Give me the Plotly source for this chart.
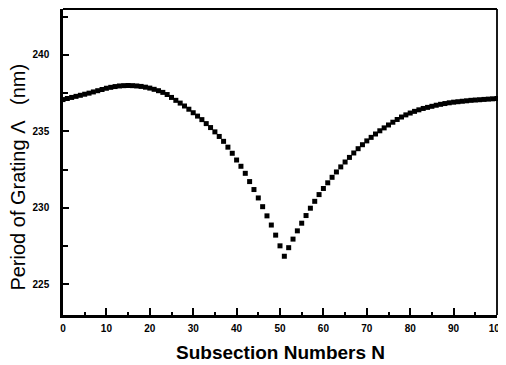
import plotly.graph_objects as go

# Subsection numbers N (0..100)
N = list(range(0, 101))

# Grating period (nm)
period_nm = [
    237.08, 237.15, 237.22, 237.29, 237.36, 237.43, 237.50, 237.58, 237.66, 237.74,
    237.82, 237.88, 237.93, 237.97, 237.99, 238.00, 237.99, 237.97, 237.94, 237.89,
    237.83, 237.75, 237.66, 237.55, 237.41, 237.22, 237.03, 236.85, 236.66, 236.45,
    236.22, 236.00, 235.77, 235.51, 235.25, 234.97, 234.67, 234.35, 233.97, 233.57,
    233.13, 232.72, 232.26, 231.72, 231.20, 230.65, 230.08, 229.48, 228.88, 228.22,
    227.52, 226.84, 227.40, 227.96, 228.50, 229.00, 229.50, 229.98, 230.43, 230.87,
    231.27, 231.64, 232.00, 232.35, 232.68, 233.00, 233.30, 233.59, 233.87, 234.13,
    234.38, 234.61, 234.83, 235.04, 235.23, 235.42, 235.60, 235.78, 235.94, 236.08,
    236.20, 236.31, 236.41, 236.50, 236.57, 236.64, 236.71, 236.77, 236.82, 236.87,
    236.91, 236.94, 236.97, 237.00, 237.03, 237.05, 237.07, 237.09, 237.11, 237.13,
    237.15,
]

x_ticks = [0, 10, 20, 30, 40, 50, 60, 70, 80, 90, 100]
y_ticks = [225, 230, 235, 240]
y_tick_labels = ["225", "230", "235", "240"]

x_title = "Subsection Numbers N"
y_title = "Period of Grating Λ   (nm)"

fig = go.Figure()
fig.add_trace(go.Scatter(
    x=N, y=period_nm, mode="markers",
    marker=dict(symbol="square", size=5, color="black", line=dict(width=0)),
    showlegend=False, cliponaxis=False,
))

tickfont = dict(family="Liberation Sans, Arial, sans-serif", size=10, color="black", weight="bold")

# page body adds an 8px offset, so the figure is sized to fit the window
fig.update_layout(
    width=498, height=357,
    margin=dict(l=55, r=9, t=1, b=50, autoexpand=False),
    paper_bgcolor="white", plot_bgcolor="white",
    xaxis=dict(
        range=[0, 100], tickvals=x_ticks, ticktext=[str(v) for v in x_ticks],
        showgrid=False, zeroline=False, automargin=False,
        showline=True, linecolor="black", linewidth=2.5,
        ticks="inside", ticklen=7, tickwidth=2, tickcolor="black",
        minor=dict(dtick=5, tick0=0, ticks="inside", ticklen=3, tickwidth=2, tickcolor="black", showgrid=False),
        tickfont=tickfont, ticklabelstandoff=2, ticklabeloverflow="allow",
    ),
    yaxis=dict(
        range=[223, 243], tickvals=y_ticks, ticktext=y_tick_labels,
        showgrid=False, zeroline=False, automargin=False,
        showline=True, linecolor="black", linewidth=2.5,
        ticks="inside", ticklen=6, tickwidth=2, tickcolor="black",
        minor=dict(dtick=2.5, tick0=225, ticks="inside", ticklen=5, tickwidth=2, tickcolor="black", showgrid=False),
        tickfont=tickfont, ticklabelstandoff=9, ticklabeloverflow="allow",
    ),
    shapes=[
        dict(type="line", xref="paper", yref="paper", x0=0, x1=1, y0=1, y1=1,
             line=dict(color="black", width=1.8)),
        dict(type="line", xref="paper", yref="paper", x0=1, x1=1, y0=0, y1=1,
             line=dict(color="black", width=1.8)),
    ],
    annotations=[
        dict(text=x_title, xref="paper", yref="paper", x=0.5, y=-0.122,
             xanchor="center", yanchor="middle", showarrow=False,
             font=dict(family="Liberation Sans, Arial, sans-serif", size=19, color="black", weight="bold")),
        dict(text=y_title, xref="paper", yref="paper", x=-0.103, y=0.45,
             xanchor="center", yanchor="middle", textangle=-90, showarrow=False,
             font=dict(family="Liberation Sans, Arial, sans-serif", size=20, color="black")),
    ],
)

fig.write_html("out.html")
